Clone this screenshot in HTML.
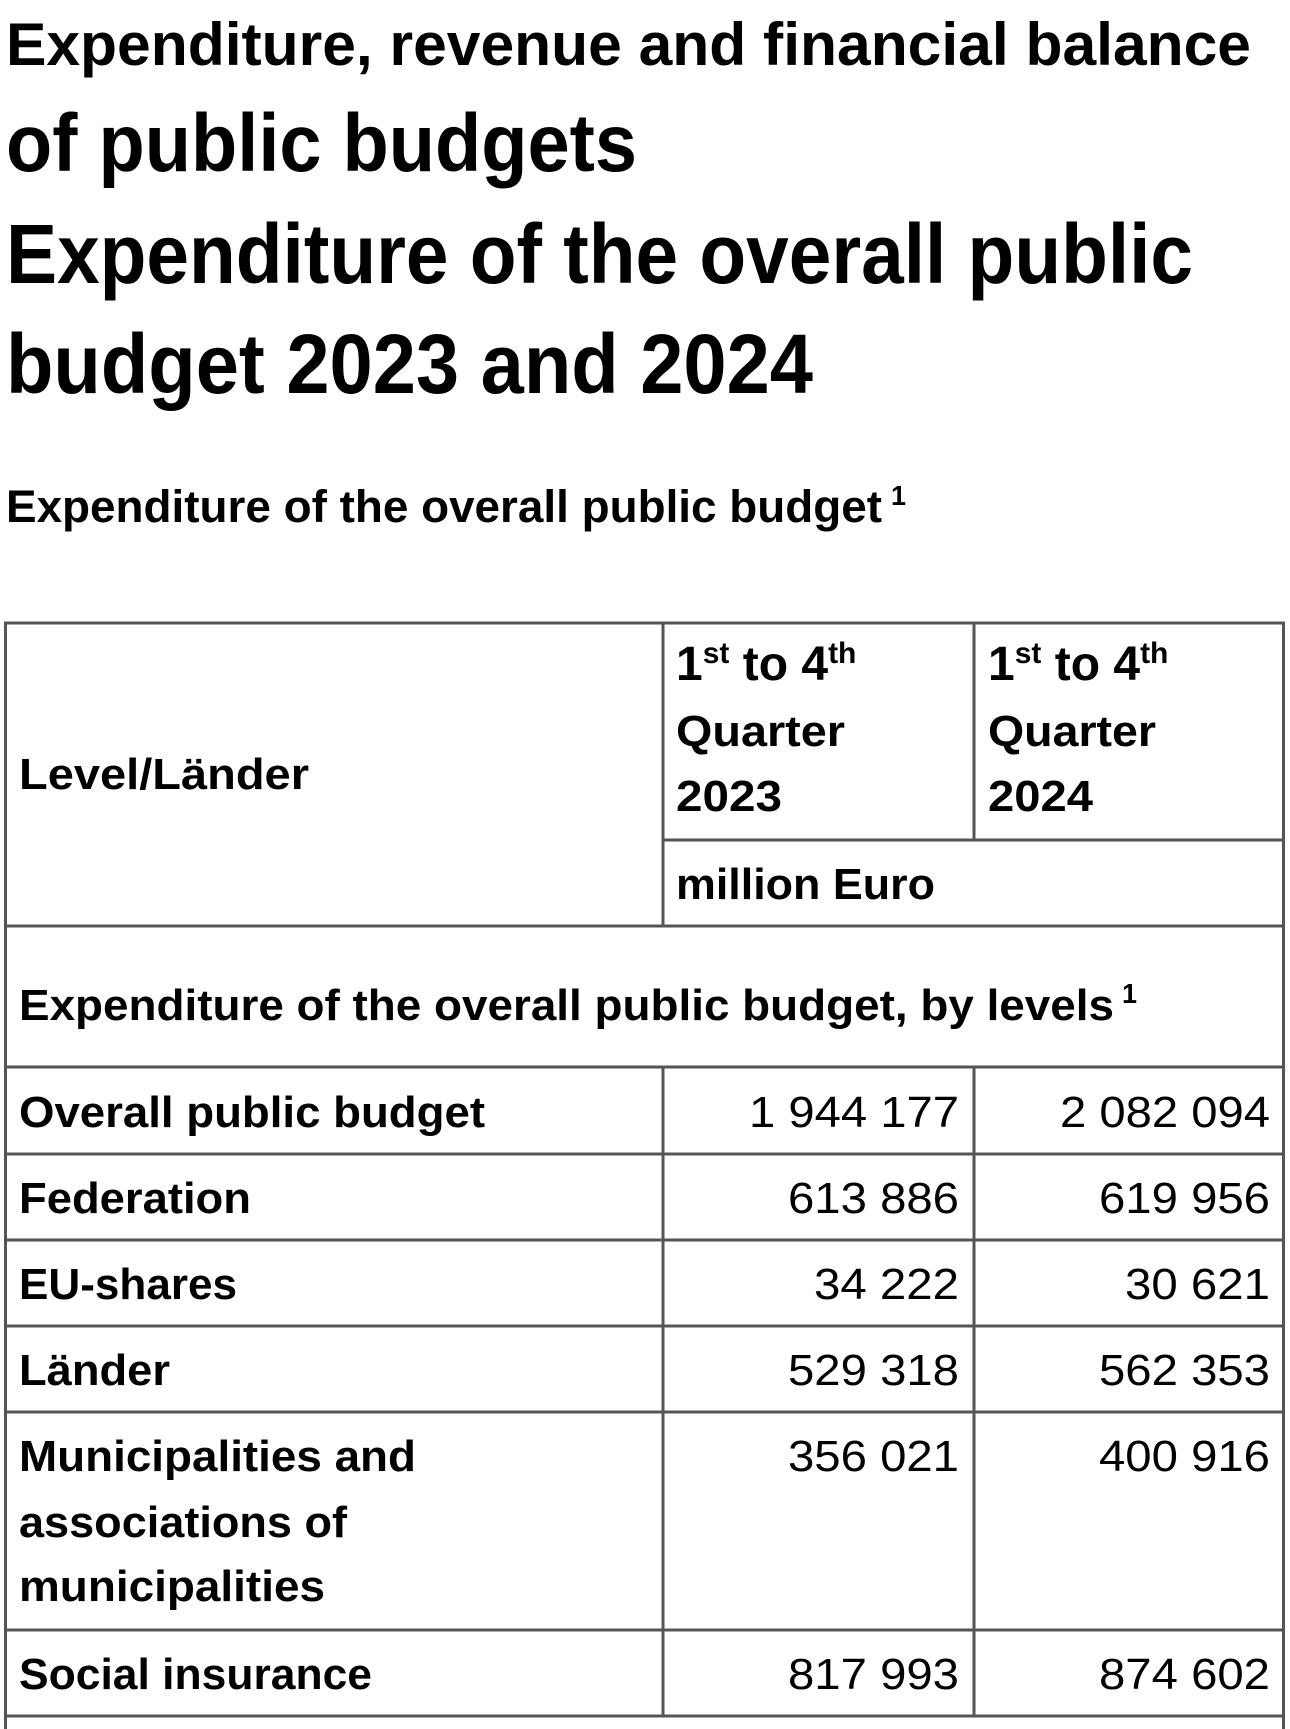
<!DOCTYPE html>
<html><head><meta charset="utf-8"><style>
html,body{margin:0;padding:0;background:#fff;width:1290px;height:1729px;overflow:hidden}
svg{display:block}
text{font-family:"Liberation Sans",sans-serif;fill:#000}
.b{font-weight:bold}
</style></head><body>
<svg width="1290" height="1729" viewBox="0 0 1290 1729" xmlns="http://www.w3.org/2000/svg">
<g class="b">
<text x="6" y="65" font-size="60" textLength="1245" lengthAdjust="spacingAndGlyphs">Expenditure, revenue and financial balance</text>
<text x="6" y="171" font-size="82" textLength="631" lengthAdjust="spacingAndGlyphs">of public budgets</text>
<text x="6" y="283" font-size="84" textLength="1187" lengthAdjust="spacingAndGlyphs">Expenditure of the overall public</text>
<text x="6" y="393" font-size="84" textLength="807" lengthAdjust="spacingAndGlyphs">budget 2023 and 2024</text>
<text x="6" y="522" font-size="45" textLength="876" lengthAdjust="spacingAndGlyphs">Expenditure of the overall public budget</text>
<text x="891" y="505" font-size="28" textLength="15" lengthAdjust="spacingAndGlyphs">1</text>
</g>
<g stroke="#555" stroke-width="3" fill="none">
<rect x="5.5" y="623" width="1278" height="1120"/>
<line x1="663" y1="623" x2="663" y2="926"/>
<line x1="974" y1="623" x2="974" y2="840"/>
<line x1="663" y1="840" x2="1284" y2="840"/>
<line x1="5" y1="926" x2="1284" y2="926"/>
<line x1="5" y1="1067" x2="1284" y2="1067"/>
<line x1="663" y1="1067" x2="663" y2="1716"/>
<line x1="974" y1="1067" x2="974" y2="1716"/>
<line x1="5" y1="1154" x2="1284" y2="1154"/>
<line x1="5" y1="1240" x2="1284" y2="1240"/>
<line x1="5" y1="1326" x2="1284" y2="1326"/>
<line x1="5" y1="1412" x2="1284" y2="1412"/>
<line x1="5" y1="1630" x2="1284" y2="1630"/>
<line x1="5" y1="1716" x2="1284" y2="1716"/>
</g>
<g class="b" font-size="44">
<text x="19" y="789" textLength="290" lengthAdjust="spacingAndGlyphs">Level/Länder</text>
<text x="676" y="680" font-size="48">1<tspan font-size="30" dy="-17">st</tspan><tspan dy="17"> to 4</tspan><tspan font-size="30" dy="-17">th</tspan></text>
<text x="676" y="746" textLength="169" lengthAdjust="spacingAndGlyphs">Quarter</text>
<text x="676" y="811" textLength="106" lengthAdjust="spacingAndGlyphs">2023</text>
<text x="988" y="680" font-size="48">1<tspan font-size="30" dy="-17">st</tspan><tspan dy="17"> to 4</tspan><tspan font-size="30" dy="-17">th</tspan></text>
<text x="988" y="746" textLength="168" lengthAdjust="spacingAndGlyphs">Quarter</text>
<text x="988" y="811" textLength="105" lengthAdjust="spacingAndGlyphs">2024</text>
<text x="676" y="899" textLength="259" lengthAdjust="spacingAndGlyphs">million Euro</text>
<text x="19" y="1020" textLength="1095" lengthAdjust="spacingAndGlyphs">Expenditure of the overall public budget, by levels</text>
<text x="1122" y="1003" font-size="28" textLength="15" lengthAdjust="spacingAndGlyphs">1</text>
<text x="19" y="1127" textLength="466" lengthAdjust="spacingAndGlyphs">Overall public budget</text>
<text x="19" y="1213" textLength="232" lengthAdjust="spacingAndGlyphs">Federation</text>
<text x="19" y="1299" textLength="218" lengthAdjust="spacingAndGlyphs">EU-shares</text>
<text x="19" y="1385" textLength="151" lengthAdjust="spacingAndGlyphs">Länder</text>
<text x="19" y="1471" textLength="397" lengthAdjust="spacingAndGlyphs">Municipalities and</text>
<text x="19" y="1537" textLength="328" lengthAdjust="spacingAndGlyphs">associations of</text>
<text x="19" y="1601" textLength="306" lengthAdjust="spacingAndGlyphs">municipalities</text>
<text x="19" y="1689" textLength="353" lengthAdjust="spacingAndGlyphs">Social insurance</text>
</g>
<g font-size="44">
<text x="749" y="1127" textLength="210" lengthAdjust="spacingAndGlyphs">1 944 177</text>
<text x="1060" y="1127" textLength="210" lengthAdjust="spacingAndGlyphs">2 082 094</text>
<text x="788" y="1213" textLength="171" lengthAdjust="spacingAndGlyphs">613 886</text>
<text x="1099" y="1213" textLength="171" lengthAdjust="spacingAndGlyphs">619 956</text>
<text x="814" y="1299" textLength="145" lengthAdjust="spacingAndGlyphs">34 222</text>
<text x="1125" y="1299" textLength="145" lengthAdjust="spacingAndGlyphs">30 621</text>
<text x="788" y="1385" textLength="171" lengthAdjust="spacingAndGlyphs">529 318</text>
<text x="1099" y="1385" textLength="171" lengthAdjust="spacingAndGlyphs">562 353</text>
<text x="788" y="1471" textLength="171" lengthAdjust="spacingAndGlyphs">356 021</text>
<text x="1099" y="1471" textLength="171" lengthAdjust="spacingAndGlyphs">400 916</text>
<text x="788" y="1689" textLength="171" lengthAdjust="spacingAndGlyphs">817 993</text>
<text x="1099" y="1689" textLength="171" lengthAdjust="spacingAndGlyphs">874 602</text>
</g>
</svg>
</body></html>
